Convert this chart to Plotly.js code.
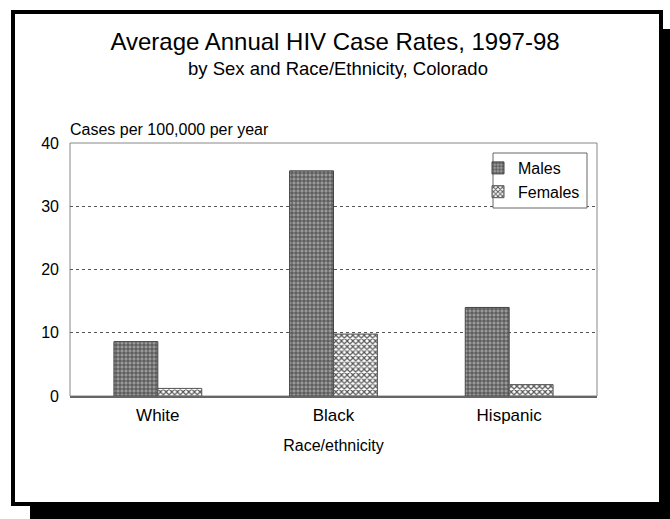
<!DOCTYPE html>
<html>
<head>
<meta charset="utf-8">
<script src="https://cdn.plot.ly/plotly-3.0.1.min.js"></script>
<style>
  html, body { margin: 0; padding: 0; background: #fff; }
  #chart { width: 670px; height: 519px; }
</style>
</head>
<body>
<div id="chart"></div>
<script>
// Average annual HIV case rates per 100,000, Colorado 1997-98
const groups = ["White", "Black", "Hispanic"];
const males = [8.6, 35.6, 14.0];
const females = [1.2, 9.8, 1.8];
const seriesNames = ["Males", "Females"];
const yTicks = [0, 10, 20, 30, 40];

const W = 670, H = 519;
const M = { l: 70, r: 73, t: 143, b: 123 };
const pw = W - M.l - M.r, ph = H - M.t - M.b;
// pixel -> paper coordinates for the decorative frame
const px = x => (x - M.l) / pw;
const py = y => (H - M.b - y) / ph;

const font = "Liberation Sans, Arial, Helvetica, sans-serif";

const traces = [
  {
    type: "bar", name: seriesNames[0], x: groups, y: males,
    marker: {
      color: "#8c8c8c",
      line: { color: "#444", width: 1 },
      pattern: { shape: "+", fgcolor: "#3a3a3a", bgcolor: "#9a9a9a", size: 4, solidity: 0.35 }
    },
    hoverinfo: "skip"
  },
  {
    type: "bar", name: seriesNames[1], x: groups, y: females,
    marker: {
      color: "#ffffff",
      line: { color: "#555", width: 1 },
      pattern: { shape: "x", fgcolor: "#555", bgcolor: "#ffffff", size: 4, solidity: 0.5 }
    },
    hoverinfo: "skip"
  }
];

const frameShapes = [
  // drop shadow strips
  { type: "rect", xref: "paper", yref: "paper", layer: "below",
    x0: px(661), x1: px(675), y0: py(29), y1: py(525),
    fillcolor: "#000", line: { width: 0 } },
  { type: "rect", xref: "paper", yref: "paper", layer: "below",
    x0: px(30), x1: px(675), y0: py(503), y1: py(525),
    fillcolor: "#000", line: { width: 0 } },
  // outer frame
  { type: "rect", xref: "paper", yref: "paper", layer: "below",
    x0: px(13), x1: px(661), y0: py(12), y1: py(504),
    line: { color: "#000", width: 4 } },
  // plot area border
  { type: "rect", xref: "paper", yref: "paper", layer: "below",
    x0: 0, x1: 1, y0: 0, y1: 1,
    line: { color: "#888", width: 1 } },
  // legend box
  { type: "rect", xref: "paper", yref: "paper", layer: "above",
    x0: px(493), x1: px(587), y0: py(153), y1: py(208),
    fillcolor: "#fff", line: { color: "#666", width: 1 } }
];

const layout = {
  width: W, height: H,
  margin: M,
  paper_bgcolor: "#fff",
  plot_bgcolor: "rgba(0,0,0,0)",
  font: { family: font, color: "#000", size: 16 },
  showlegend: true,
  barmode: "group",
  bargap: 0.5,
  bargroupgap: 0,
  title: {
    text: "Average Annual HIV Case Rates, 1997-98",
    font: { family: font, size: 24, color: "#000" },
    x: 0.5, xref: "container", xanchor: "center",
    y: 1 - 42 / H, yref: "container", yanchor: "middle"
  },
  xaxis: {
    type: "category",
    showgrid: false,
    showline: true, linecolor: "#666", linewidth: 2, mirror: false,
    ticks: "", tickfont: { size: 17 },
    ticklabelstandoff: 3,
    title: { text: "Race/ethnicity", font: { size: 16 }, standoff: 15 },
    fixedrange: true
  },
  yaxis: {
    range: [0, 40],
    tickvals: yTicks,
    showgrid: true, gridcolor: "#555", griddash: "dot", gridwidth: 1,
    zeroline: false,
    showline: false,
    ticks: "", tickfont: { size: 16 },
    ticklabelstandoff: 10,
    fixedrange: true
  },
  legend: {
    x: px(478), y: py(151), xanchor: "left", yanchor: "top",
    bgcolor: "rgba(0,0,0,0)", borderwidth: 0,
    font: { size: 16 },
    itemwidth: 30
  },
  shapes: frameShapes,
  annotations: [
    { text: "by Sex and Race/Ethnicity, Colorado", xref: "paper", yref: "paper",
      x: px(338), y: py(69), xanchor: "center", yanchor: "middle",
      showarrow: false, font: { size: 18.5 } },
    { text: "Cases per 100,000 per year", xref: "paper", yref: "paper",
      x: px(68), y: py(129), xanchor: "left", yanchor: "middle",
      showarrow: false, font: { size: 16 } }
  ]
};

Plotly.newPlot("chart", traces, layout, { staticPlot: true, displayModeBar: false });
</script>
</body>
</html>
